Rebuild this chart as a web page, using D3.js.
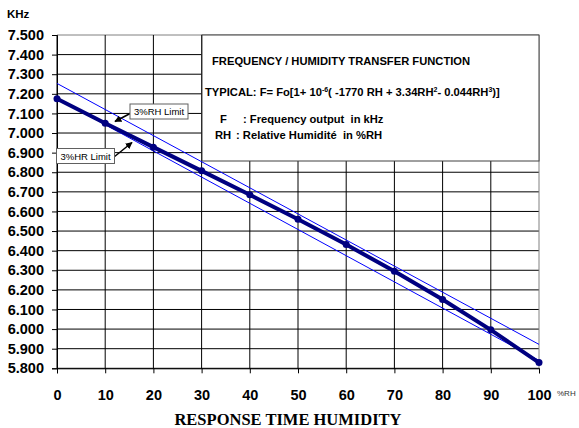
<!DOCTYPE html>
<html><head><meta charset="utf-8">
<script src="https://cdn.jsdelivr.net/npm/d3@7"></script>
<style>body{margin:0;background:#fff}svg{display:block}</style>
</head><body>
<svg id="c" width="579" height="428"></svg>
<script>
const rh = [0,10,20,30,40,50,60,70,80,90,100];
const typical = [7.175,7.050,6.928,6.807,6.685,6.560,6.431,6.295,6.151,5.996,5.829];
const upperRH = [0,100];
const upperLimit = [7.253,5.922];
const lowerRH = [0,100];
const lowerLimit = [7.176,5.840];
const yTicks = d3.range(5.8,7.5001,0.1);
const xTicks = [0,10,20,30,40,50,60,70,80,90,100];

const svg = d3.select("#c");
const L=57,R=539,T=35,B=368.3;
const x = d3.scaleLinear().domain([0,100]).range([L,R]);
const y = d3.scaleLinear().domain([5.8,7.5]).range([B,T]);
const sans = "'Liberation Sans', Arial, sans-serif";

// grid
svg.append("g").selectAll("line").data(yTicks).join("line")
 .attr("x1",L).attr("x2",R).attr("y1",d=>y(d)).attr("y2",d=>y(d))
 .attr("stroke",d=>Math.abs(d-7.5)<1e-6?"#808080":"#000").attr("stroke-width",1);
svg.append("g").selectAll("line").data(xTicks).join("line")
 .attr("y1",T).attr("y2",B).attr("x1",d=>x(d)).attr("x2",d=>x(d))
 .attr("stroke",d=>d===100?"#808080":"#000").attr("stroke-width",1);

// axes
const yAxis = d3.axisLeft(y).tickValues(yTicks).tickFormat(d3.format(".3f")).tickSize(5).tickPadding(8);
const gy = svg.append("g").attr("transform",`translate(${L},0)`).call(yAxis);
gy.select(".domain").attr("stroke","#000");
gy.selectAll("text").attr("font-family",sans).attr("font-weight","bold").attr("font-size","14.5px").attr("fill","#000");
const xAxis = d3.axisBottom(x).tickValues(xTicks).tickFormat(d3.format("d")).tickSize(5).tickPadding(16);
const gx = svg.append("g").attr("transform",`translate(0,${B})`).call(xAxis);
gx.select(".domain").attr("stroke","#000");
gx.selectAll("text").attr("font-family",sans).attr("font-weight","bold").attr("font-size","14.5px").attr("fill","#000");

// annotation box
svg.append("rect").attr("x",202).attr("y",T).attr("width",R-202).attr("height",126)
 .attr("fill","#fff").attr("stroke","#404040").attr("stroke-width",1);
const bx = svg.append("g").attr("font-family",sans).attr("font-weight","bold").attr("fill","#000").attr("font-size","11.2px");
bx.append("text").attr("x",212).attr("y",65).text("FREQUENCY / HUMIDITY TRANSFER FUNCTION");
const t2 = bx.append("text").attr("x",205).attr("y",96);
t2.append("tspan").text("TYPICAL: F= Fo[1+ 10");
t2.append("tspan").attr("dy",-4).attr("font-size","7px").text("-6");
t2.append("tspan").attr("dy",4).text("( -1770 RH + 3.34RH");
t2.append("tspan").attr("dy",-4).attr("font-size","7px").text("2");
t2.append("tspan").attr("dy",4).text("- 0.044RH");
t2.append("tspan").attr("dy",-4).attr("font-size","7px").text("3");
t2.append("tspan").attr("dy",4).text(")]");
bx.append("text").attr("x",220).attr("y",123).text("F");
bx.append("text").attr("x",243).attr("y",123).text(": Frequency output\u00a0 in kHz");
bx.append("text").attr("x",215).attr("y",139).text("RH");
bx.append("text").attr("x",236).attr("y",139).text(": Relative Humidité\u00a0 in %RH");

// series
const line = d3.line().x(d=>x(d[0])).y(d=>y(d[1]));
svg.append("path").datum(upperRH.map((r,i)=>[r,upperLimit[i]])).attr("d",line)
 .attr("fill","none").attr("stroke","#0000ff").attr("stroke-width",1);
svg.append("path").datum(lowerRH.map((r,i)=>[r,lowerLimit[i]])).attr("d",line)
 .attr("fill","none").attr("stroke","#0000ff").attr("stroke-width",1);
svg.append("path").datum(rh.map((r,i)=>[r,typical[i]])).attr("d",line)
 .attr("fill","none").attr("stroke","#000080").attr("stroke-width",4);
svg.append("g").selectAll("circle").data(rh.map((r,i)=>[r,typical[i]])).join("circle")
 .attr("cx",d=>x(d[0])).attr("cy",d=>y(d[1])).attr("r",3.5).attr("fill","#000080");

// callouts
svg.append("defs").append("marker").attr("id","ah").attr("viewBox","0 0 10 10").attr("refX",9).attr("refY",5)
 .attr("markerWidth",7).attr("markerHeight",7).attr("orient","auto-start-reverse").attr("markerUnits","userSpaceOnUse")
 .append("path").attr("d","M0,0L10,5L0,10z").attr("fill","#000");
svg.append("line").attr("x1",131).attr("y1",113).attr("x2",115).attr("y2",121.5).attr("stroke","#000").attr("stroke-width",1.5).attr("marker-end","url(#ah)");
svg.append("line").attr("x1",114).attr("y1",157).attr("x2",132).attr("y2",142.5).attr("stroke","#000").attr("stroke-width",1.5).attr("marker-end","url(#ah)");
function callout(x0,y0,w,h,txt){
  svg.append("rect").attr("x",x0).attr("y",y0).attr("width",w).attr("height",h).attr("fill","#fff").attr("stroke","#606060").attr("stroke-width",1);
  svg.append("text").attr("x",x0+w/2).attr("y",y0+h/2+3.5).attr("text-anchor","middle").attr("font-family",sans).attr("font-size","9.5px").attr("fill","#000").text(txt);
}
callout(130,104,58,15,"3%RH Limit");
callout(56.5,148.5,58,15,"3%HR Limit");

// axis titles
svg.append("text").attr("x",7).attr("y",18).attr("font-family",sans).attr("font-weight","bold").attr("font-size","11.5px").text("KHz");
svg.append("text").attr("x",557).attr("y",396).attr("font-family",sans).attr("font-size","8px").attr("fill","#333").text("%RH");
svg.append("text").attr("x",288).attr("y",425).attr("text-anchor","middle").attr("font-family","'Liberation Serif','Times New Roman',serif").attr("font-weight","bold").attr("font-size","16.5px").text("RESPONSE TIME HUMIDITY");
</script>
</body></html>
